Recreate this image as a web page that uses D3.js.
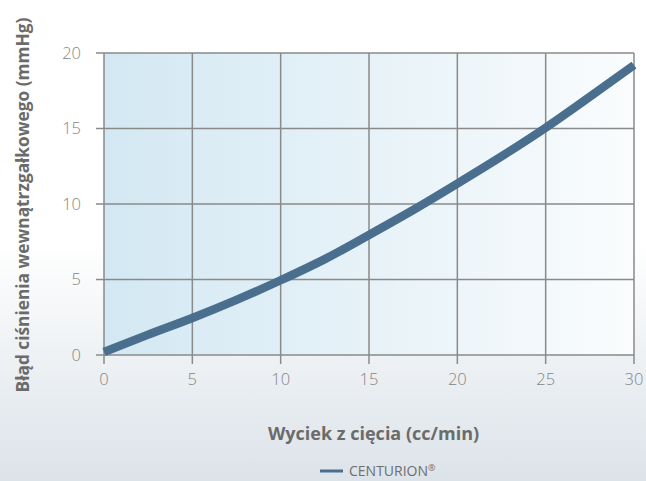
<!DOCTYPE html>
<html>
<head>
<meta charset="utf-8">
<script src="https://cdn.jsdelivr.net/npm/d3@7"></script>
<style>
  html, body { margin: 0; padding: 0; }
  body { width: 646px; height: 481px; overflow: hidden; }
  text { font-family: "Open Sans", "Noto Sans", sans-serif; }
</style>
</head>
<body>
<svg id="chart" width="646" height="481"></svg>
<script>
// Leak rate through the incision vs. IOP error
const leakRates = [0, 2.5, 5, 7.5, 10, 12.5, 15, 17.5, 20, 22.5, 25, 27.5, 30];
const iopError  = [0.2, 1.35, 2.45, 3.65, 4.95, 6.35, 7.95, 9.6, 11.35, 13.15, 15.05, 17.1, 19.2];
const xTicks = [0, 5, 10, 15, 20, 25, 30];
const yTicks = [0, 5, 10, 15, 20];
const seriesName = "CENTURION";
const xTitle = "Wyciek z cięcia (cc/min)";
const yTitle = "Błąd ciśnienia wewnątrzgałkowego (mmHg)";

const W = 646, H = 481;
const margin = { left: 104, right: 12, top: 53, bottom: 126 };
const svg = d3.select("#chart");
const defs = svg.append("defs");

// page background: white fading to pale grey-blue
const bg = defs.append("linearGradient").attr("id", "bg").attr("x1", 0).attr("y1", 0).attr("x2", 0).attr("y2", 1);
bg.append("stop").attr("offset", "0%").attr("stop-color", "#ffffff");
bg.append("stop").attr("offset", "50%").attr("stop-color", "#ffffff");
bg.append("stop").attr("offset", "100%").attr("stop-color", "#dce3e9");
svg.append("rect").attr("width", W).attr("height", H).attr("fill", "url(#bg)");

// plot area: light blue on the left fading to white
const pg = defs.append("linearGradient").attr("id", "plotbg").attr("x1", 0).attr("y1", 0).attr("x2", 1).attr("y2", 0);
pg.append("stop").attr("offset", "0%").attr("stop-color", "#d3e8f3");
pg.append("stop").attr("offset", "100%").attr("stop-color", "#fafcfd");

const x = d3.scaleLinear().domain([0, 30]).range([margin.left, W - margin.right]);
const y = d3.scaleLinear().domain([0, 20]).range([H - margin.bottom, margin.top]);

svg.append("rect")
  .attr("x", x(0)).attr("y", y(20))
  .attr("width", x(30) - x(0)).attr("height", y(0) - y(20))
  .attr("fill", "url(#plotbg)");

const gridColor = "#8a8a8a";

// horizontal grid lines with left ticks
svg.append("g").selectAll("line").data(yTicks).join("line")
  .attr("x1", x(0) - 8).attr("x2", x(30))
  .attr("y1", d => y(d)).attr("y2", d => y(d))
  .attr("stroke", gridColor).attr("stroke-width", 1.5);

// vertical grid lines with bottom ticks
svg.append("g").selectAll("line").data(xTicks).join("line")
  .attr("x1", d => x(d)).attr("x2", d => x(d))
  .attr("y1", y(20)).attr("y2", y(0) + 9)
  .attr("stroke", gridColor).attr("stroke-width", 1.5);

// tick labels
svg.append("g").selectAll("text").data(yTicks).join("text")
  .attr("x", x(0) - 23).attr("y", d => y(d))
  .attr("dy", "0.35em").attr("text-anchor", "end")
  .attr("font-size", 16.5).attr("font-weight", 300).attr("fill", "#858585")
  .text(d => d);

svg.append("g").selectAll("text").data(xTicks).join("text")
  .attr("x", d => x(d)).attr("y", y(0) + 30)
  .attr("text-anchor", "middle")
  .attr("font-size", 16.5).attr("font-weight", 300).attr("fill", "#858585")
  .text(d => d);

// data line
const line = d3.line().x((d, i) => x(leakRates[i])).y(d => y(d)).curve(d3.curveMonotoneX);
svg.append("path")
  .attr("d", line(iopError))
  .attr("fill", "none").attr("stroke", "#4a6f8e").attr("stroke-width", 8.5)
  .attr("stroke-linecap", "butt");

// axis titles
svg.append("text")
  .attr("x", 373.5).attr("y", 440)
  .attr("text-anchor", "middle")
  .attr("font-size", 18).attr("font-weight", 700).attr("fill", "#6b6b6b")
  .text(xTitle);

svg.append("text")
  .attr("transform", `translate(28.5, 205) rotate(-90)`)
  .attr("text-anchor", "middle")
  .attr("font-size", 17.3).attr("font-weight", 700).attr("fill", "#6b6b6b")
  .text(yTitle);

// legend
const lg = svg.append("g");
lg.append("line").attr("x1", 320).attr("x2", 343).attr("y1", 471).attr("y2", 471)
  .attr("stroke", "#4a6f8e").attr("stroke-width", 3);
const lt = lg.append("text").attr("x", 349).attr("y", 476)
  .attr("font-size", 14).attr("font-weight", 400).attr("fill", "#6e6e6e");
lt.append("tspan").text(seriesName);
lt.append("tspan").attr("font-size", 9).attr("dy", -5).text("®");
</script>
</body>
</html>
